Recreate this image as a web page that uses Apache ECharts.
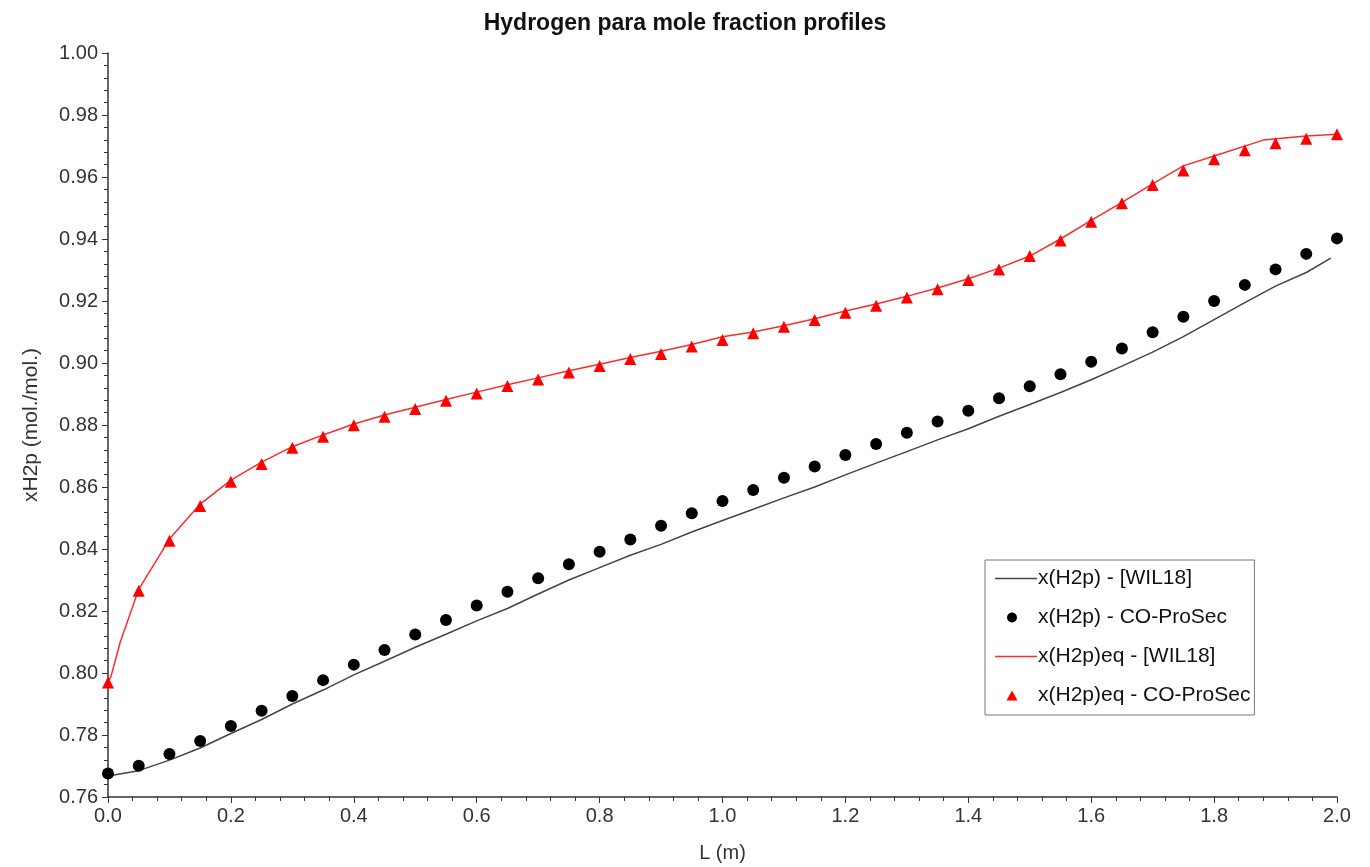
<!DOCTYPE html>
<html>
<head>
<meta charset="utf-8">
<title>Hydrogen para mole fraction profiles</title>
<script src="https://cdn.jsdelivr.net/npm/echarts@6/dist/echarts.min.js"></script>
<style>
  html, body { margin: 0; padding: 0; background: #fff; }
  #chart { width: 1370px; height: 867px; }
</style>
</head>
<body>
<div id="chart"></div>
<script>
// sample positions along the converter (m)
var pointL = [0.00, 0.05, 0.10, 0.15, 0.20, 0.25, 0.30, 0.35, 0.40, 0.45,
              0.50, 0.55, 0.60, 0.65, 0.70, 0.75, 0.80, 0.85, 0.90, 0.95,
              1.00, 1.05, 1.10, 1.15, 1.20, 1.25, 1.30, 1.35, 1.40, 1.45,
              1.50, 1.55, 1.60, 1.65, 1.70, 1.75, 1.80, 1.85, 1.90, 1.95, 2.00];

// x(H2p) - CO-ProSec (black dots)
var h2pProSec = [0.7676, 0.7701, 0.7739, 0.7781, 0.7829, 0.7878, 0.7926, 0.7977, 0.8027, 0.8074,
                 0.8124, 0.8171, 0.8218, 0.8262, 0.8306, 0.8351, 0.8391, 0.8431, 0.8475, 0.8515,
                 0.8555, 0.8590, 0.8630, 0.8666, 0.8703, 0.8739, 0.8775, 0.8811, 0.8846, 0.8886,
                 0.8925, 0.8964, 0.9004, 0.9047, 0.9099, 0.9149, 0.9200, 0.9252, 0.9302, 0.9352, 0.9402];

// x(H2p)eq - CO-ProSec (red triangles)
var h2pEqProSec = [0.7969, 0.8265, 0.8427, 0.8539, 0.8617, 0.8674, 0.8727, 0.8762, 0.8799, 0.8827,
                   0.8852, 0.8878, 0.8902, 0.8926, 0.8947, 0.8969, 0.8990, 0.9013, 0.9029, 0.9053,
                   0.9074, 0.9096, 0.9117, 0.9139, 0.9162, 0.9185, 0.9211, 0.9238, 0.9268, 0.9302,
                   0.9345, 0.9395, 0.9456, 0.9515, 0.9574, 0.9621, 0.9657, 0.9686, 0.9709, 0.9723, 0.9738];

// x(H2p) - [WIL18] (grey line)
var wilL = [0, 0.05, 0.1, 0.15, 0.2, 0.25, 0.3, 0.35, 0.4, 0.45, 0.5, 0.55, 0.6, 0.65, 0.7,
            0.75, 0.8, 0.85, 0.9, 0.95, 1.0, 1.05, 1.1, 1.15, 1.2, 1.25, 1.3, 1.35, 1.4, 1.45,
            1.5, 1.55, 1.6, 1.65, 1.7, 1.75, 1.8, 1.85, 1.9, 1.95, 1.99];
var h2pWil = [0.7668, 0.7685, 0.7719, 0.7758, 0.7805, 0.7850, 0.7900, 0.7945, 0.7994, 0.8038,
              0.8083, 0.8125, 0.8168, 0.8208, 0.8255, 0.8300, 0.8340, 0.8380, 0.8415, 0.8455,
              0.8492, 0.8528, 0.8565, 0.8600, 0.8639, 0.8677, 0.8714, 0.8752, 0.8788, 0.8828,
              0.8866, 0.8905, 0.8946, 0.8990, 0.9035, 0.9085, 0.9140, 0.9195, 0.9248, 0.9292, 0.9338];

// x(H2p)eq - [WIL18] (red line)
var wilEqL = [0, 0.005, 0.02, 0.05, 0.1, 0.15, 0.2, 0.25, 0.3, 0.35, 0.4, 0.45, 0.5, 0.55, 0.6,
              0.65, 0.7, 0.75, 0.8, 0.85, 0.9, 0.95, 1.0, 1.05, 1.1, 1.15, 1.2, 1.25, 1.3, 1.35,
              1.4, 1.45, 1.5, 1.55, 1.6, 1.65, 1.7, 1.75, 1.8, 1.88, 1.95, 2.0];
var h2pEqWil = [0.7970, 0.7990, 0.8100, 0.8270, 0.8432, 0.8545, 0.8622, 0.8680, 0.8730, 0.8768,
                0.8803, 0.8832, 0.8857, 0.8882, 0.8906, 0.8930, 0.8952, 0.8975, 0.8996, 0.9018,
                0.9038, 0.9060, 0.9085, 0.9100, 0.9120, 0.9143, 0.9168, 0.9190, 0.9215, 0.9242,
                0.9272, 0.9306, 0.9345, 0.9400, 0.9460, 0.9518, 0.9578, 0.9636, 0.9668, 0.9719,
                0.9732, 0.9738];

var seriesNames = ['x(H2p) - [WIL18]', 'x(H2p) - CO-ProSec', 'x(H2p)eq - [WIL18]', 'x(H2p)eq - CO-ProSec'];

function pairs(xs, ys) {
    return xs.map(function (x, i) { return [x, ys[i]]; });
}

// legend icons: two invisible specks pin the 42x14 box, so the shape keeps its place
var box = 'M0,0 L0.01,0 L0.01,0.01 Z M42,14 L41.99,14 L41.99,13.99 Z ';
var iconLine = 'path://' + box + 'M0,6.3 L42,6.3 L42,7.7 L0,7.7 Z';
var iconDot = 'path://' + box + 'M12,7 A5,5 0 1,0 22,7 A5,5 0 1,0 12,7 Z';
var iconTri = 'path://' + box + 'M17,2 L22.5,12 L11.5,12 Z';

var font = 'Liberation Sans, Arial, sans-serif';
var chart = echarts.init(document.getElementById('chart'));
chart.setOption({
    animation: false,
    backgroundColor: '#fff',
    title: {
        text: 'Hydrogen para mole fraction profiles',
        left: 'center',
        top: 7,
        textStyle: { fontFamily: font, fontSize: 23, fontWeight: 'bold', color: '#111' }
    },
    grid: { left: 108, right: 33, top: 53, bottom: 70, containLabel: false, outerBoundsMode: 'none' },
    legend: {
        orient: 'vertical',
        left: 985,
        top: 560,
        padding: [8, 4, 9, 10],
        itemGap: 18,
        itemWidth: 42,
        itemHeight: 14,
        borderColor: '#777',
        borderWidth: 1,
        itemStyle: { borderWidth: 0 },
        textStyle: { fontFamily: font, fontSize: 21, color: '#111', padding: [0, 0, 0, -4] },
        data: [
            { name: seriesNames[0], icon: iconLine },
            { name: seriesNames[1], icon: iconDot },
            { name: seriesNames[2], icon: iconLine },
            { name: seriesNames[3], icon: iconTri }
        ]
    },
    xAxis: {
        type: 'value',
        min: 0, max: 2, interval: 0.2,
        name: 'L (m)',
        nameLocation: 'middle',
        nameGap: 46,
        nameTextStyle: { fontFamily: font, fontSize: 20, color: '#333' },
        axisLine: { lineStyle: { color: '#333', width: 1.5 } },
        axisTick: { inside: false, length: 6, lineStyle: { color: '#333' } },
        minorTick: { show: true, splitNumber: 5, length: 4, lineStyle: { color: '#333' } },
        splitLine: { show: false },
        axisLabel: {
            fontFamily: font, fontSize: 20, color: '#333', margin: 9,
            formatter: function (v) { return v.toFixed(1); }
        }
    },
    yAxis: {
        type: 'value',
        min: 0.76, max: 1.00, interval: 0.02,
        name: 'xH2p (mol./mol.)',
        nameLocation: 'middle',
        nameGap: 66,
        nameTextStyle: { fontFamily: font, fontSize: 21, color: '#333' },
        axisLine: { show: true, lineStyle: { color: '#333', width: 1.5 } },
        axisTick: { show: true, inside: false, length: 6, lineStyle: { color: '#333' } },
        minorTick: { show: true, splitNumber: 5, length: 4, lineStyle: { color: '#333' } },
        splitLine: { show: false },
        axisLabel: {
            fontFamily: font, fontSize: 20, color: '#333', margin: 10,
            formatter: function (v) { return v.toFixed(2); }
        }
    },
    series: [
        {
            name: seriesNames[0],
            type: 'line',
            data: pairs(wilL, h2pWil),
            symbol: 'none',
            lineStyle: { color: '#444', width: 1.5 },
            itemStyle: { color: '#444' },
            z: 2
        },
        {
            name: seriesNames[1],
            type: 'scatter',
            data: pairs(pointL, h2pProSec),
            symbol: 'circle',
            symbolSize: 12,
            itemStyle: { color: '#000', opacity: 1 },
            z: 3
        },
        {
            name: seriesNames[2],
            type: 'line',
            data: pairs(wilEqL, h2pEqWil),
            symbol: 'none',
            lineStyle: { color: '#ff2a2a', width: 1.5 },
            itemStyle: { color: '#ff2a2a' },
            z: 2
        },
        {
            name: seriesNames[3],
            type: 'scatter',
            data: pairs(pointL, h2pEqProSec),
            symbol: 'triangle',
            symbolSize: 12,
            itemStyle: { color: '#ff0000', opacity: 1 },
            z: 3
        }
    ]
});
</script>
</body>
</html>
